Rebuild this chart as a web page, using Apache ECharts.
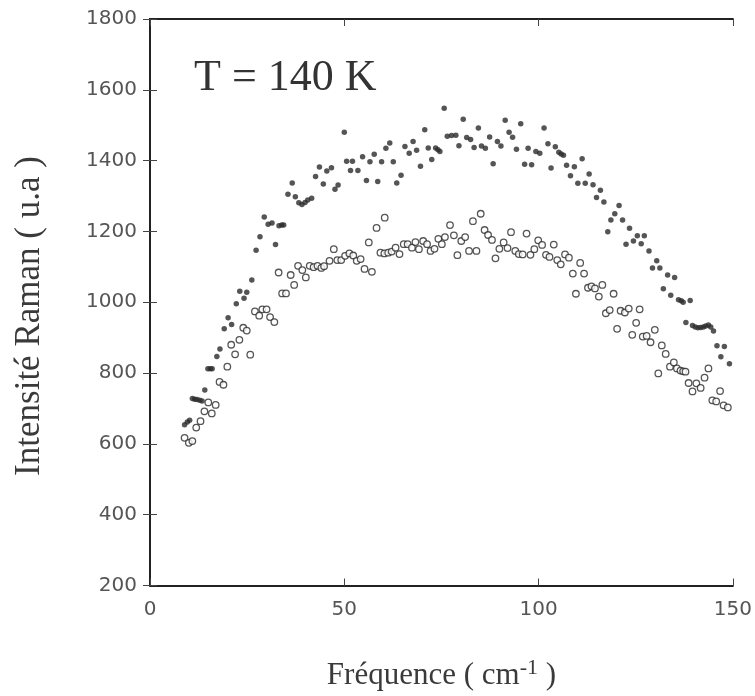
<!DOCTYPE html>
<html>
<head>
<meta charset="utf-8">
<script src="https://cdn.jsdelivr.net/npm/echarts@6/dist/echarts.min.js"></script>
<style>
  html, body { margin: 0; padding: 0; background: #fff; }
  #chart { width: 755px; height: 696px; }
</style>
</head>
<body>
<div id="chart"></div>
<script>
// Raman intensity vs frequency at T = 140 K, two spectra
const freqFilled = [8.9,9.6,10.2,10.9,11.5,12.1,12.8,13.4,14.1,14.9,15.5,16.0,17.2,18.0,19.1,20.1,21.0,22.2,23.1,24.2,24.9,26.2,27.3,28.3,29.4,30.4,31.4,32.3,33.2,33.9,34.4,35.5,36.6,37.4,38.3,39.1,39.9,40.6,41.6,42.6,43.6,44.6,45.5,46.7,47.6,48.4,50.0,50.6,51.6,52.1,53.5,54.7,55.7,56.6,57.7,58.6,59.6,60.7,61.7,62.6,63.5,64.6,65.6,66.7,67.7,68.6,69.6,70.7,71.6,72.5,73.5,74.1,74.6,75.7,76.5,77.6,78.7,79.5,80.6,81.5,82.5,83.4,84.5,85.3,86.3,87.4,88.3,89.4,90.3,91.4,92.4,93.3,94.3,95.4,96.4,97.3,98.2,99.3,100.3,101.4,102.4,103.2,104.3,105.2,105.8,106.4,107.2,108.2,109.2,110.1,111.2,112.0,113.0,114.0,114.9,115.9,116.8,117.8,118.6,119.6,120.7,121.6,122.5,123.4,124.4,125.4,126.4,127.2,128.4,129.3,130.4,131.2,132.1,133.2,134.0,135.0,136.0,136.7,137.2,137.9,139.0,139.6,140.3,141.0,141.7,142.4,143.0,143.7,144.3,145.0,145.9,146.9,147.8,149.1];
const intensFilled = [654,662,667,728,726,725,723,721,752,812,812,812,847,868,925,956,937,996,1031,1011,1028,1063,1147,1185,1241,1220,1224,1163,1216,1218,1218,1305,1337,1298,1281,1276,1282,1289,1294,1355,1382,1334,1371,1380,1319,1331,1480,1398,1372,1398,1372,1411,1344,1397,1418,1341,1397,1435,1450,1397,1337,1359,1440,1421,1454,1429,1384,1487,1436,1403,1436,1431,1426,1548,1469,1471,1472,1442,1517,1465,1460,1437,1492,1441,1435,1467,1391,1454,1441,1514,1480,1466,1432,1504,1390,1435,1388,1426,1421,1492,1448,1379,1439,1424,1419,1415,1387,1357,1383,1336,1405,1336,1362,1332,1296,1316,1283,1199,1232,1250,1273,1232,1164,1209,1173,1188,1165,1188,1145,1097,1117,1097,1038,1077,1020,1070,1007,1004,1000,943,1005,934,930,928,929,930,933,936,930,919,877,846,875,826];

const freqOpen = [8.9,10.0,10.9,11.9,13.0,14.0,15.0,15.9,16.9,17.9,18.9,19.9,20.9,21.9,23.0,24.0,24.9,25.8,27.0,28.1,28.9,30.0,30.9,32.0,33.1,34.0,35.0,36.2,37.1,38.1,39.2,40.1,41.1,42.1,43.1,44.1,44.8,46.2,47.3,48.2,49.2,50.2,51.3,52.3,53.2,54.2,55.2,56.3,57.1,58.3,59.3,60.3,60.4,61.3,62.2,63.2,64.2,65.3,66.3,67.4,68.3,69.2,70.3,71.3,72.2,73.2,74.2,75.1,75.9,77.2,78.2,79.1,80.1,81.1,82.1,83.1,84.0,85.1,86.1,87.0,88.0,88.9,89.9,91.0,92.0,92.9,94.0,94.9,95.9,96.9,97.9,98.9,99.9,100.9,101.9,102.8,103.9,104.8,105.7,106.8,107.8,108.8,109.6,110.7,111.7,112.7,113.6,114.5,115.5,116.4,117.3,118.3,119.3,120.2,121.1,122.2,123.2,124.1,125.1,126.0,126.8,127.8,128.8,129.9,130.8,131.7,132.7,133.8,134.8,135.6,136.5,137.2,137.8,138.6,139.6,140.6,141.7,142.7,143.7,144.7,145.7,146.7,147.6,148.7];
const intensOpen = [617,603,608,646,664,692,717,686,710,775,767,818,880,853,894,928,920,852,974,962,980,980,958,944,1084,1025,1025,1077,1049,1103,1091,1070,1103,1099,1103,1097,1102,1117,1150,1119,1119,1131,1138,1132,1117,1122,1094,1169,1086,1210,1140,1138,1239,1140,1143,1154,1136,1164,1164,1154,1170,1150,1173,1164,1145,1151,1179,1164,1184,1218,1189,1133,1173,1184,1145,1229,1145,1250,1204,1190,1176,1124,1151,1169,1153,1198,1145,1136,1135,1194,1134,1150,1175,1162,1134,1128,1163,1119,1107,1135,1126,1081,1024,1111,1081,1041,1045,1039,1016,1049,969,978,1024,925,976,971,982,908,942,980,903,905,887,922,799,878,854,818,830,813,807,805,804,772,748,771,758,787,813,723,720,749,709,703];

const xTicks = [0, 50, 100, 150];
const yTicks = [200, 400, 600, 800, 1000, 1200, 1400, 1600, 1800];

const zip = (xs, ys) => xs.map((x, i) => [x, ys[i]]);

const ink = '#2b2b2b';
const plain = v => String(v);
const tickFont = { fontFamily: 'DejaVu Sans', fontSize: 20, color: '#555', formatter: plain };
const serif = 'Liberation Serif';

const frameLine = { show: true, lineStyle: { color: '#222', width: 2 } };
const innerTicks = { show: true, inside: true, length: 7, lineStyle: { color: '#444', width: 1 } };

const chart = echarts.init(document.getElementById('chart'), null, { renderer: 'canvas' });
chart.setOption({
  backgroundColor: '#fff',
  animation: false,
  grid: { left: 150, right: 19, top: 19, bottom: 109 },
  xAxis: [
    {
      type: 'value', min: xTicks[0], max: xTicks[xTicks.length - 1], interval: 50,
      axisLine: frameLine, axisTick: innerTicks, splitLine: { show: false },
      axisLabel: Object.assign({ margin: 14 }, tickFont),
      name: 'Fréquence ( cm{sup|-1} )',
      nameLocation: 'middle', nameGap: 72,
      nameTextStyle: {
        fontFamily: serif, fontSize: 31, color: '#3a3a3a',
        rich: { sup: { fontFamily: serif, fontSize: 22, color: '#3a3a3a', padding: [0, 0, 14, 0] } }
      }
    },
    {
      type: 'value', position: 'top', min: xTicks[0], max: xTicks[xTicks.length - 1], interval: 50,
      axisLine: frameLine, axisTick: innerTicks, axisLabel: { show: false }, splitLine: { show: false }
    }
  ],
  yAxis: [
    {
      type: 'value', min: yTicks[0], max: yTicks[yTicks.length - 1], interval: 200,
      axisLine: frameLine, axisTick: innerTicks, splitLine: { show: false },
      axisLabel: Object.assign({ margin: 13 }, tickFont)
    },
    {
      type: 'value', position: 'right', min: yTicks[0], max: yTicks[yTicks.length - 1], interval: 200,
      axisLine: frameLine, axisTick: innerTicks, axisLabel: { show: false }, splitLine: { show: false }
    }
  ],
  graphic: [
    {
      type: 'text', left: 194, top: 56,
      style: { text: 'T = 140 K', font: '44px "Liberation Serif"', fill: '#333' }
    },
    {
      // vertical axis title, centred a little below the plot's middle
      type: 'text', x: 30, y: 316, rotation: Math.PI / 2,
      style: {
        text: 'Intensité Raman ( u.a )', font: '35px "Liberation Serif"', fill: '#3a3a3a',
        align: 'center', verticalAlign: 'middle'
      }
    }
  ],
  series: [
    {
      type: 'scatter', name: 'filled',
      data: zip(freqFilled, intensFilled),
      symbol: 'circle', symbolSize: 5.5,
      itemStyle: { color: ink }
    },
    {
      type: 'scatter', name: 'open',
      data: zip(freqOpen, intensOpen),
      symbol: 'circle', symbolSize: 6.5,
      itemStyle: { color: '#fff', borderColor: ink, borderWidth: 1.3 }
    }
  ]
});
</script>
</body>
</html>
